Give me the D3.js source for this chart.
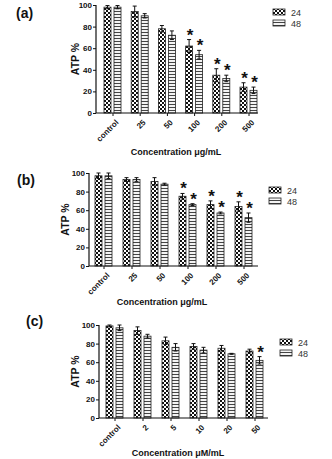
<!DOCTYPE html>
<html>
<head>
<meta charset="utf-8">
<script src="https://cdn.jsdelivr.net/npm/d3@7"></script>
<style>
  body { margin: 0; background: #fff; }
  svg { display: block; font-family: "Liberation Sans", Arial, sans-serif; }
</style>
</head>
<body>
<svg id="chart" width="332" height="459"></svg>
<script>
// ATP % after 24 h and 48 h exposure, three panels
var seriesNames = ["24", "48"];
var yTicks = [0, 20, 40, 60, 80, 100];

var catsA = ["control", "25", "50", "100", "200", "500"];
var a24 = [98, 94, 78, 62, 35, 24];
var a48 = [98, 90, 72, 54, 32, 21];
var a24Err = [1.5, 5, 3, 6, 6, 4];
var a48Err = [1.5, 2, 4, 4, 3, 3];
var a24Star = [0, 0, 0, 1, 1, 1];
var a48Star = [0, 0, 0, 1, 1, 1];

var catsB = ["control", "25", "50", "100", "200", "500"];
var b24 = [97, 93, 91, 75, 66, 64];
var b48 = [97, 93, 88, 66, 57, 52];
var b24Err = [3, 2, 4, 3, 4, 5];
var b48Err = [3, 2, 1, 1, 1, 5];
var b24Star = [0, 0, 0, 1, 1, 1];
var b48Star = [0, 0, 0, 1, 1, 1];

var catsC = ["control", "2", "5", "10", "20", "50"];
var c24 = [99, 94, 83, 77, 75, 72];
var c48 = [97, 88, 76, 73, 69, 62];
var c24Err = [1, 4, 4, 3, 3, 2];
var c48Err = [3, 2, 4, 3, 0.5, 4];
var c24Star = [0, 0, 0, 0, 0, 0];
var c48Star = [0, 0, 0, 0, 0, 1];

var svg = d3.select("#chart");
var defs = svg.append("defs");

// checkerboard fill for 24 h
var chk = defs.append("pattern").attr("id", "checker")
    .attr("patternUnits", "userSpaceOnUse").attr("width", 4).attr("height", 4);
chk.append("rect").attr("width", 4).attr("height", 4).attr("fill", "#fff");
chk.append("rect").attr("width", 2).attr("height", 2).attr("fill", "#111");
chk.append("rect").attr("x", 2).attr("y", 2).attr("width", 2).attr("height", 2).attr("fill", "#111");

// horizontal stripes for 48 h
var str = defs.append("pattern").attr("id", "stripes")
    .attr("patternUnits", "userSpaceOnUse").attr("width", 4).attr("height", 3);
str.append("rect").attr("width", 4).attr("height", 3).attr("fill", "#f4f4f4");
str.append("rect").attr("y", 2).attr("width", 4).attr("height", 1).attr("fill", "#444");

var fills = ["url(#checker)", "url(#stripes)"];

function panel(cfg) {
    var g = svg.append("g");

    var y = d3.scaleLinear().domain([0, 100]).range([cfg.y0, cfg.y1]);
    var x = d3.scalePoint().domain(cfg.cats).range([cfg.c0, cfg.c1]);
    var sub = d3.scaleBand().domain(seriesNames).range([-cfg.bw - 1.5, cfg.bw + 1.5]).paddingInner(0.3);

    var rows = cfg.cats.map(function(c, i) {
        return cfg.vals.map(function(v, s) {
            return { cat: c, s: s, v: v[i], e: cfg.errs[s][i], star: cfg.stars[s][i] };
        });
    });
    var flat = d3.merge(rows);

    // bars
    g.selectAll("rect.bar").data(flat).enter().append("rect")
        .attr("class", "bar")
        .attr("x", function(d) { return x(d.cat) + sub(seriesNames[d.s]); })
        .attr("width", sub.bandwidth())
        .attr("y", function(d) { return y(d.v); })
        .attr("height", function(d) { return y(0) - y(d.v); })
        .attr("fill", function(d) { return fills[d.s]; })
        .attr("stroke", "#222").attr("stroke-width", 0.8);

    // error bars
    var eb = g.selectAll("g.err").data(flat).enter().append("g")
        .attr("transform", function(d) {
            return "translate(" + (x(d.cat) + sub(seriesNames[d.s]) + sub.bandwidth() / 2) + ",0)";
        })
        .attr("stroke", "#111").attr("stroke-width", 1);
    eb.append("line")
        .attr("y1", function(d) { return y(d.v - d.e); })
        .attr("y2", function(d) { return y(d.v + d.e); });
    eb.append("line").attr("x1", -2).attr("x2", 2)
        .attr("y1", function(d) { return y(d.v + d.e); })
        .attr("y2", function(d) { return y(d.v + d.e); });
    eb.append("line").attr("x1", -2).attr("x2", 2)
        .attr("y1", function(d) { return y(d.v - d.e); })
        .attr("y2", function(d) { return y(d.v - d.e); });

    // significance marks
    g.selectAll("text.star").data(flat.filter(function(d) { return d.star; })).enter()
        .append("text").attr("class", "star")
        .attr("x", function(d) { return x(d.cat) + sub(seriesNames[d.s]) + sub.bandwidth() / 2 + 1; })
        .attr("y", function(d) { return y(d.v + d.e) + 1; })
        .attr("text-anchor", "middle")
        .attr("font-size", 17).attr("font-weight", "bold").attr("fill", "#111")
        .text("*");

    // y axis
    var ya = g.append("g").attr("transform", "translate(" + cfg.ax + ",0)")
        .call(d3.axisLeft(y).tickValues(yTicks).tickSize(3).tickPadding(1));
    ya.select(".domain").attr("stroke", "#111").attr("stroke-width", 1.2)
        .attr("d", "M0," + cfg.y0 + "V" + cfg.y1);
    ya.selectAll("line").attr("stroke", "#111");
    ya.selectAll("text").attr("font-size", 8).attr("font-weight", "bold").attr("fill", "#111")
        .attr("font-family", "Liberation Sans, Arial, sans-serif");

    // x axis
    var xa = g.append("g").attr("transform", "translate(0," + cfg.y0 + ")")
        .call(d3.axisBottom(x).tickSize(3).tickPadding(2));
    xa.select(".domain").attr("stroke", "#111").attr("stroke-width", 1.2)
        .attr("d", "M" + cfg.ax + ",0H" + cfg.axEnd);
    xa.selectAll("line").attr("stroke", "#111");
    xa.selectAll("text")
        .attr("font-size", 8).attr("font-weight", "bold").attr("fill", "#111")
        .attr("font-family", "Liberation Sans, Arial, sans-serif")
        .attr("text-anchor", "end")
        .attr("x", 0).attr("y", 0).attr("dy", "0.35em")
        .attr("transform", "translate(4,8) rotate(-45)");

    // titles
    g.append("text")
        .attr("transform", "translate(" + cfg.yTitleX + "," + (cfg.y0 + cfg.y1) / 2 + ") rotate(-90)")
        .attr("text-anchor", "middle").attr("font-size", 10.5).attr("font-weight", "bold").attr("fill", "#111")
        .text("ATP %");
    g.append("text")
        .attr("x", cfg.xTitleX).attr("y", cfg.xTitleY)
        .attr("text-anchor", "middle").attr("font-size", 9).attr("font-weight", "bold").attr("fill", "#111")
        .text(cfg.xTitle);
    g.append("text")
        .attr("x", cfg.labX).attr("y", cfg.labY)
        .attr("font-size", 14).attr("font-weight", "bold").attr("fill", "#111")
        .attr("font-family", "Liberation Sans, Arial, sans-serif")
        .text(cfg.label);

    // legend
    var lg = g.selectAll("g.leg").data(seriesNames).enter().append("g")
        .attr("transform", function(d, i) { return "translate(" + cfg.legX + "," + (cfg.legY + i * 11) + ")"; });
    lg.append("rect").attr("y", -3).attr("width", 12).attr("height", 6)
        .attr("fill", function(d, i) { return fills[i]; })
        .attr("stroke", "#222").attr("stroke-width", 0.8);
    lg.append("text").attr("x", 18).attr("y", 3.5)
        .attr("font-size", 9).attr("fill", "#333")
        .text(function(d) { return d; });
}

panel({
    cats: catsA, vals: [a24, a48], errs: [a24Err, a48Err], stars: [a24Star, a48Star],
    y0: 113, y1: 5, c0: 112.5, c1: 248.5, bw: 7, ax: 96, axEnd: 258,
    yTitleX: 79, xTitle: "Concentration \u03bcg/mL", xTitleX: 176, xTitleY: 155,
    label: "(a)", labX: 16, labY: 18, legX: 273, legY: 12
});
panel({
    cats: catsB, vals: [b24, b48], errs: [b24Err, b48Err], stars: [b24Star, b48Star],
    y0: 266, y1: 173, c0: 103.5, c1: 243.5, bw: 7, ax: 89, axEnd: 258,
    yTitleX: 69, xTitle: "Concentration \u03bcg/mL", xTitleX: 162, xTitleY: 305,
    label: "(b)", labX: 17, labY: 185, legX: 269, legY: 190
});
panel({
    cats: catsC, vals: [c24, c48], errs: [c24Err, c48Err], stars: [c24Star, c48Star],
    y0: 418, y1: 325, c0: 114.5, c1: 254.5, bw: 7, ax: 99, axEnd: 268,
    yTitleX: 79, xTitle: "Concentration \u03bcM/mL", xTitleX: 178, xTitleY: 456,
    label: "(c)", labX: 26, labY: 326, legX: 280, legY: 342
});
</script>
</body>
</html>
